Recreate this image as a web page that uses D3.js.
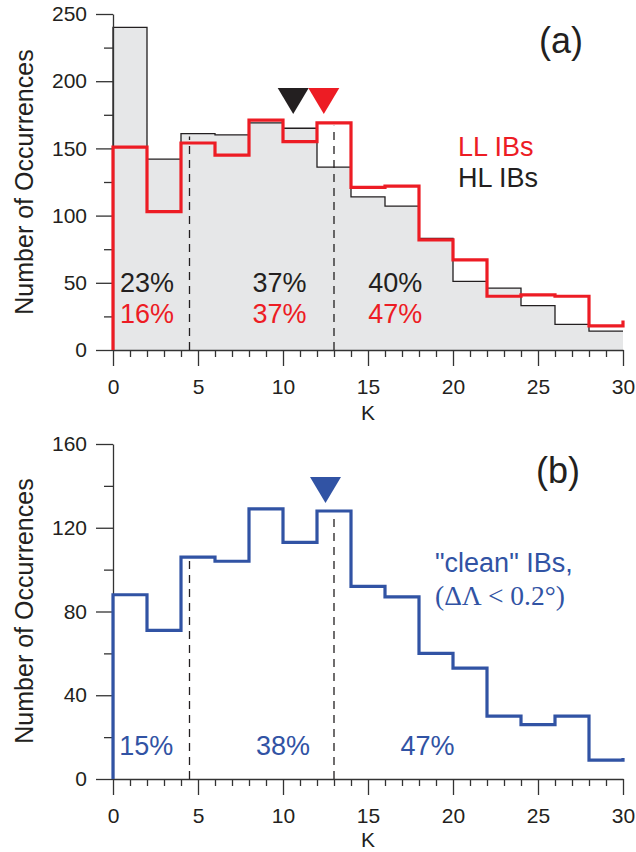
<!DOCTYPE html>
<html>
<head>
<meta charset="utf-8">
<script src="https://cdn.jsdelivr.net/npm/d3@7"></script>
<style>
  body { margin: 0; background: #fff; }
  svg { display: block; font-family: "Liberation Sans", Arial, sans-serif; }
</style>
</head>
<body>
<svg id="svg" width="636" height="852"></svg>
<script>
// bin edges (K), left edge of each 2-wide bin
var binEdges = [0, 2, 4, 6, 8, 10, 12, 14, 16, 18, 20, 22, 24, 26, 28];
var kMax = 30;

// panel (a) counts
var hlCounts = [240, 142, 161, 160, 169, 165, 136, 114, 107, 83, 51, 46, 33, 19, 14];
var llCounts = [151, 103, 154, 145, 171, 155, 169, 121, 122, 82, 67, 40, 41, 40, 18];
var llNext = 22;
// panel (b) counts
var cleanCounts = [88, 71, 106, 104, 129, 113, 128, 92, 87, 60, 53, 30, 26, 30, 9];
var cleanNext = 10;

var splitK = [4.5, 13];
var medianA = [{k: 10.6, color: "#231f20"}, {k: 12.4, color: "#ed1c24"}];
var medianB = [{k: 12.5, color: "#3153a4"}];

var pctA = [
  {k: 2.0, hl: "23%", ll: "16%"},
  {k: 9.8, hl: "37%", ll: "37%"},
  {k: 16.6, hl: "40%", ll: "47%"}
];
var pctB = [{k: 1.95, t: "15%"}, {k: 10.0, t: "38%"}, {k: 18.5, t: "47%"}];

var xTicksMajor = [0, 5, 10, 15, 20, 25, 30];
var yTicksA = [0, 50, 100, 150, 200, 250];
var yTicksB = [0, 40, 80, 120, 160];

var RED = "#ed1c24", BLUE = "#3153a4", INK = "#231f20", AXIS = "#333";

var svg = d3.select("#svg");

var x = d3.scaleLinear().domain([0, kMax]).range([113, 623]);
var yA = d3.scaleLinear().domain([0, 250]).range([350, 14]);
var yB = d3.scaleLinear().domain([0, 160]).range([779, 444]);

function stepPoints(counts, next) {
  var pts = [[0, 0]];
  counts.forEach(function(c, i) { pts.push([binEdges[i], c]); });
  pts.push([kMax, next === undefined ? counts[counts.length - 1] : next]);
  return pts;
}

function drawAxes(g, y, majors, minorStep, yMax) {
  var minors = d3.range(0, yMax + 0.1, minorStep).filter(function(v) { return majors.indexOf(v) < 0; });
  var xMinor = d3.range(0, kMax + 1, 1).filter(function(v) { return v % 5 !== 0; });

  g.append("g")
      .attr("transform", "translate(0," + y(0) + ")")
      .call(d3.axisBottom(x).tickValues(xMinor).tickSize(7).tickFormat(""))
      .call(function(a) { a.select(".domain").remove(); });
  g.append("g")
      .attr("transform", "translate(0," + y(0) + ")")
      .call(d3.axisBottom(x).tickValues(xTicksMajor).tickSize(16).tickPadding(13).tickSizeOuter(0));
  g.append("g")
      .attr("transform", "translate(" + x(0) + ",0)")
      .call(d3.axisLeft(y).tickValues(minors).tickSize(9).tickFormat(""))
      .call(function(a) { a.select(".domain").remove(); });
  g.append("g")
      .attr("transform", "translate(" + x(0) + ",0)")
      .call(d3.axisLeft(y).tickValues(majors).tickSize(17).tickPadding(9).tickSizeOuter(0));

  g.selectAll(".domain, .tick line").attr("stroke", AXIS).attr("stroke-width", 1.3);
  g.selectAll(".tick text").attr("fill", INK).style("font-size", "21px")
      .style("font-family", "'Liberation Sans', Arial, sans-serif");
}

function yLabel(g, cy) {
  g.append("text")
      .attr("transform", "translate(33," + cy + ") rotate(-90)")
      .attr("text-anchor", "middle")
      .attr("fill", INK)
      .style("font-size", "25px")
      .text("Number of Occurrences");
}

function kLabel(g, y0) {
  g.append("text")
      .attr("x", x(15)).attr("y", y0)
      .attr("text-anchor", "middle")
      .attr("fill", INK)
      .style("font-size", "21px")
      .text("K");
}

function dashed(g, y, tops) {
  g.selectAll("line.split")
    .data(splitK)
    .join("line")
      .attr("class", "split")
      .attr("x1", d => x(d)).attr("x2", d => x(d))
      .attr("y1", y(0))
      .attr("y2", d => y(tops(d)) + 3)
      .attr("stroke", INK)
      .attr("stroke-width", 1.3)
      .attr("stroke-dasharray", "8,6");
}

function valueAt(counts, k) {
  var i = Math.min(binEdges.length - 1, Math.floor(k / 2));
  return counts[i];
}

function triangles(g, data, yTop) {
  g.selectAll("path.med")
    .data(data)
    .join("path")
      .attr("class", "med")
      .attr("d", d => "M" + (x(d.k) - 15.5) + "," + yTop + "h31l-15.5,26z")
      .attr("fill", d => d.color);
}

// ---------- panel (a) ----------
var ga = svg.append("g");

var stepA = d3.line().x(d => x(d[0])).y(d => yA(d[1])).curve(d3.curveStepAfter);
var areaA = d3.area().x(d => x(d[0])).y0(yA(0)).y1(d => yA(d[1])).curve(d3.curveStepAfter);

var hlPts = stepPoints(hlCounts);
ga.append("path")
    .attr("d", areaA(hlPts.slice(1)))
    .attr("fill", "#e6e7e8");

dashed(ga, yA, function(k) { return Math.max(valueAt(hlCounts, k), valueAt(llCounts, k)); });

ga.append("path")
    .attr("d", stepA(hlPts))
    .attr("fill", "none")
    .attr("stroke", INK)
    .attr("stroke-width", 1.3);

drawAxes(ga, yA, yTicksA, 25, 250);

ga.append("path")
    .attr("d", stepA(stepPoints(llCounts, llNext)))
    .attr("fill", "none")
    .attr("stroke", RED)
    .attr("stroke-width", 3.2);

triangles(ga, medianA, 88);

ga.selectAll("text.hl")
  .data(pctA)
  .join("text")
    .attr("class", "hl")
    .attr("x", d => x(d.k)).attr("y", 292)
    .attr("text-anchor", "middle")
    .attr("fill", INK)
    .style("font-size", "27px")
    .text(d => d.hl);
ga.selectAll("text.ll")
  .data(pctA)
  .join("text")
    .attr("class", "ll")
    .attr("x", d => x(d.k)).attr("y", 323)
    .attr("text-anchor", "middle")
    .attr("fill", RED)
    .style("font-size", "27px")
    .text(d => d.ll);

ga.append("text").attr("x", 561).attr("y", 53).attr("text-anchor", "middle")
    .attr("fill", INK).style("font-size", "36px").text("(a)");
ga.append("text").attr("x", 458).attr("y", 156)
    .attr("fill", RED).style("font-size", "27px").text("LL IBs");
ga.append("text").attr("x", 458).attr("y", 187)
    .attr("fill", INK).style("font-size", "27px").text("HL IBs");

yLabel(ga, 182);
kLabel(ga, 420);

// ---------- panel (b) ----------
var gb = svg.append("g");
var stepB = d3.line().x(d => x(d[0])).y(d => yB(d[1])).curve(d3.curveStepAfter);

dashed(gb, yB, function(k) { return valueAt(cleanCounts, k); });
drawAxes(gb, yB, yTicksB, 20, 160);

gb.append("path")
    .attr("d", stepB(stepPoints(cleanCounts, cleanNext)))
    .attr("fill", "none")
    .attr("stroke", BLUE)
    .attr("stroke-width", 3.2);

triangles(gb, medianB, 477);

gb.selectAll("text.pct")
  .data(pctB)
  .join("text")
    .attr("class", "pct")
    .attr("x", d => x(d.k)).attr("y", 755)
    .attr("text-anchor", "middle")
    .attr("fill", BLUE)
    .style("font-size", "27px")
    .text(d => d.t);

gb.append("text").attr("x", 558).attr("y", 483).attr("text-anchor", "middle")
    .attr("fill", INK).style("font-size", "36px").text("(b)");
gb.append("text").attr("x", 435).attr("y", 572)
    .attr("fill", BLUE).style("font-size", "27px").text("\"clean\" IBs,");
gb.append("text").attr("x", 435).attr("y", 605)
    .attr("fill", BLUE)
    .style("font-family", "'Liberation Serif', 'Times New Roman', serif")
    .style("font-size", "27.5px")
    .text("(\u0394\u039B < 0.2\u00B0)");

yLabel(gb, 611);
kLabel(gb, 847);
</script>
</body>
</html>
